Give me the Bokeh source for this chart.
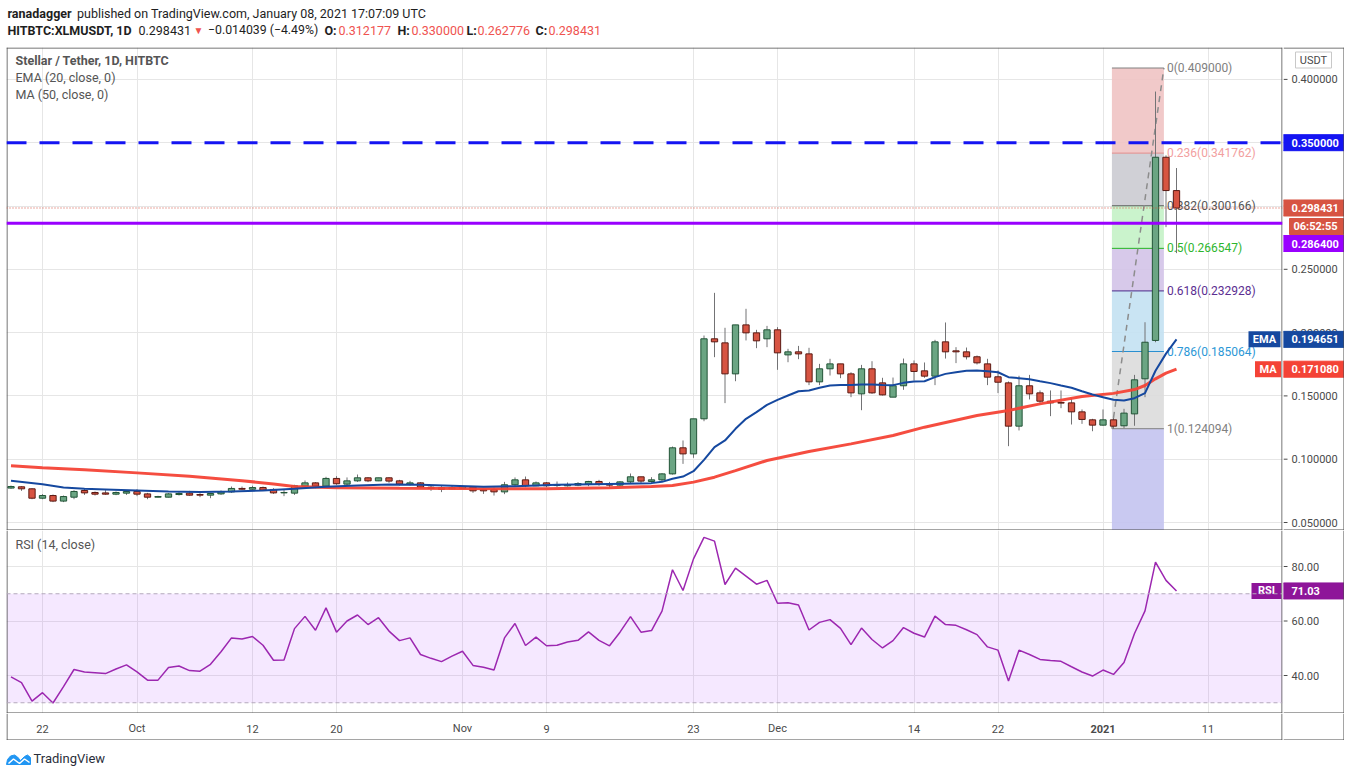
import numpy as np
import pandas as pd
from bokeh.plotting import figure
from bokeh.models import (Range1d, FixedTicker, Span, BoxAnnotation, ColumnDataSource, Grid)
from bokeh.layouts import column, row
from bokeh.embed import file_html
from bokeh.resources import INLINE
from bokeh.core.properties import value

# ---------------------------------------------------------------- data
start = "2020-09-19"

opens = [.0772, .0782, .0766, .0692, .0713, .0669, .0700, .0753, .0737, .0734, .0724, .0732,
         .0745, .0726, .0700, .0700, .0721, .0732, .0721, .0716, .0726, .0742,
         .0769, .0763, .0776, .0761, .0734, .0732, .0787, .0813, .0787, .0848,
         .0803, .0829, .0853, .0829, .0853, .0829, .0803, .0813, .0779, .0776, .0766,
         .0769, .0779, .0761, .0761, .0742, .0798, .0837, .0790, .0813, .0792,
         .0790, .0795, .0803, .0824, .0808, .0795, .0821, .0861, .0824, .0837,
         .0884, .1090, .1042, .1319, .1951, .1919, .1674, .2061, .1998, .1951,
         .2022, .1824, .1848, .1832, .1611, .1714, .1753, .1674, .1516, .1714,
         .1603, .1490, .1580, .1753, .1698, .1656, .1927, .1856, .1848, .1809,
         .1753, .1651, .1603, .1261, .1580, .1524, .1458, .1448, .1445, .1374, .1311,
         .1269, .1311, .1264, .1358, .1635, .1938, .3385, .312177]
highs = [.0792, .0787, .0771, .0724, .0721, .0713, .0755, .0766, .0745, .0755, .0745, .0755,
         .0763, .0734, .0711, .0732, .0740, .0750, .0732, .0734, .0753, .0784,
         .0784, .0790, .0784, .0771, .0758, .0798, .0832, .0819, .0861, .0866,
         .0856, .0879, .0858, .0853, .0858, .0837, .0829, .0819, .0792, .0787, .0792,
         .0790, .0787, .0766, .0776, .0821, .0856, .0863, .0824, .0819, .0824,
         .0816, .0819, .0829, .0837, .0821, .0827, .0887, .0861, .0858, .0890,
         .1100, .1148, .1319, .1977, .2314, .2038, .2061, .2188, .2022, .2053,
         .2043, .1872, .1895, .1880, .1753, .1793, .1753, .1687, .1745, .1774,
         .1643, .1645, .1795, .1780, .1764, .1943, .2080, .1885, .1882, .1819,
         .1793, .1701, .1614, .1659, .1666, .1543, .1543, .1543, .1485, .1393, .1319,
         .1393, .1327, .1398, .1666, .2082, .3904, .3400, .330000]
lows = [.0766, .0750, .0684, .0684, .0661, .0661, .0684, .0718, .0713, .0718, .0716, .0718,
        .0708, .0684, .0698, .0698, .0713, .0711, .0700, .0692, .0718, .0734,
        .0758, .0758, .0750, .0726, .0708, .0718, .0779, .0771, .0776, .0798,
        .0792, .0821, .0819, .0827, .0813, .0792, .0792, .0771, .0750, .0740, .0761,
        .0766, .0734, .0726, .0713, .0724, .0787, .0779, .0787, .0779, .0779,
        .0784, .0787, .0787, .0790, .0779, .0790, .0811, .0811, .0813, .0824,
        .0879, .0963, .1011, .1300, .1806, .1443, .1616, .1938, .1877, .1885,
        .1706, .1766, .1790, .1585, .1585, .1661, .1640, .1490, .1387, .1516,
        .1503, .1490, .1548, .1622, .1643, .1585, .1795, .1759, .1788, .1748,
        .1585, .1522, .1103, .1227, .1472, .1432, .1340, .1403, .1274, .1279, .1221,
        .1264, .1241, .1245, .1264, .1490, .1924, .2833, .262776]
closes = [.0784, .0766, .0692, .0713, .0669, .0705, .0745, .0734, .0724, .0724, .0737, .0745,
          .0724, .0700, .0705, .0726, .0729, .0716, .0716, .0729, .0742, .0769,
          .0763, .0776, .0755, .0734, .0737, .0790, .0813, .0787, .0848, .0806,
          .0829, .0853, .0829, .0853, .0827, .0803, .0813, .0779, .0769, .0763, .0776,
          .0784, .0750, .0750, .0742, .0798, .0837, .0790, .0813, .0790, .0795,
          .0798, .0808, .0824, .0803, .0795, .0821, .0861, .0827, .0837, .0884,
          .1090, .1042, .1319, .1951, .1927, .1674, .2061, .1998, .1935, .2022,
          .1840, .1848, .1832, .1611, .1714, .1753, .1674, .1524, .1714, .1524,
          .1508, .1580, .1753, .1693, .1656, .1927, .1848, .1848, .1809, .1761,
          .1648, .1608, .1261, .1580, .1516, .1458, .1445, .1443, .1374, .1314, .1269,
          .1311, .1261, .1364, .1627, .1924, .3385, .3122, .298431]

rsi = [39.5, 37.4, 30.6, 33.7, 29.9, 35.9, 42.2, 41.3, 41.0, 40.7, 42.4, 43.9,
       41.3, 38.3, 38.3, 42.9, 43.5, 41.8, 41.6, 44.1, 48.7, 53.8,
       53.4, 54.3, 51.1, 45.6, 45.7, 57.2, 61.7, 56.6, 64.8, 55.9,
       60.0, 62.2, 58.7, 61.2, 56.3, 52.8, 53.8, 47.7, 46.3, 45.1, 47.1,
       48.9, 43.7, 43.0, 42.0, 53.8, 59.1, 51.0, 54.1, 50.9, 51.1,
       52.3, 52.9, 56.0, 52.9, 50.9, 55.9, 61.6, 55.9, 56.5, 63.6,
       78.8, 71.2, 82.8, 90.7, 89.3, 73.4, 79.4, 76.5, 73.5, 74.9,
       66.5, 66.7, 65.9, 56.7, 59.5, 60.5, 57.3, 51.3, 57.4, 53.2,
       50.1, 52.8, 57.6, 55.5, 54.1, 61.8, 58.7, 58.4, 56.8, 55.0,
       50.5, 49.3, 38.0, 49.3, 47.7, 45.9, 45.5, 45.2, 43.2, 41.3, 39.8,
       42.0, 40.4, 44.8, 55.4, 63.7, 81.6, 74.9, 71.03]

# EMA(20) and MA(50) (day offset from start, value)
ema_day = [0, 3, 5, 7, 9, 12, 15, 18, 21, 24, 27, 30, 33, 36, 39, 42, 45, 48, 52, 57,
           61, 62, 63, 64, 65, 66, 67, 68, 69, 70, 71, 72, 73, 74, 75, 76, 77, 78, 79,
           80, 81, 82, 83, 84, 85, 86, 87, 88, 89, 90, 91, 92, 93, 94, 95, 96, 97, 98,
           99, 100, 101, 102, 103, 104, 105, 106, 107, 108, 109, 110, 111]
ema_val = [0.0829, 0.0803, 0.0776, 0.0766, 0.0761, 0.0753, 0.0745, 0.0740, 0.0745, 0.0753,
           0.0766, 0.0782, 0.0792, 0.0800, 0.0798, 0.0790, 0.0782, 0.0787, 0.0798, 0.0805,
           0.0811, 0.0821, 0.0845, 0.0863, 0.0905, 0.0995, 0.1095, 0.1148, 0.1240, 0.1319,
           0.1372, 0.1429, 0.1469, 0.1503, 0.1537, 0.1543, 0.1564, 0.1582, 0.1587, 0.1587,
           0.1590, 0.1590, 0.1587, 0.1585, 0.1603, 0.1614, 0.1616, 0.1648, 0.1674, 0.1687,
           0.1698, 0.1701, 0.1695, 0.1687, 0.1648, 0.1640, 0.1632, 0.1616, 0.1601, 0.1582,
           0.1564, 0.1537, 0.1511, 0.1490, 0.1469, 0.1464, 0.1482, 0.1522, 0.1699, 0.1834,
           0.194651]
ma_day = [0, 3, 7, 12, 17, 22, 25, 27, 31, 37, 43, 51, 57, 61, 63, 65, 67, 69, 72, 76,
          80, 84, 87, 92, 95, 98, 102, 105, 107, 108, 109, 110, 111]
ma_val = [0.0948, 0.0932, 0.0916, 0.0892, 0.0866, 0.0830, 0.0805, 0.0785, 0.0775, 0.0771,
          0.0768, 0.0767, 0.0774, 0.0784, 0.0792, 0.0819, 0.0858, 0.0910, 0.0990, 0.1061,
          0.1121, 0.1187, 0.1253, 0.1345, 0.1385, 0.1437, 0.1495, 0.1520, 0.1550, 0.1582,
          0.1635, 0.1680, 0.171080]

tick_dates = ["2020-09-22", "2020-10-01", "2020-10-12", "2020-10-20", "2020-11-01",
              "2020-11-09", "2020-11-23", "2020-12-01", "2020-12-14", "2020-12-22",
              "2021-01-01", "2021-01-11"]
tick_labels = ["22", "Oct", "12", "20", "Nov", "9", "23", "Dec", "14", "22", "2021", "11"]
price_ticks = [0.05, 0.10, 0.15, 0.20, 0.25, 0.30, 0.35, 0.40]
rsi_ticks = [40, 60, 80]

fib_high = 0.409
fib_low = 0.124094
fib_ratios = [0, 0.236, 0.382, 0.5, 0.618, 0.786, 1, 1.618]
resistance = 0.35
support = 0.2864
countdown = "06:52:55"

# ---------------------------------------------------------------- geometry / styles
FONT = "Roboto"
FRAME = "#4a4a4a"
TXT = "#4a4a4a"
GRID = "#e6e6e6"
UP_FILL, UP_LINE = "#6ba583", "#225437"
DN_FILL, DN_LINE = "#d75442", "#5b1a13"
WICK = "#737375"
EMA_C = "#15489f"
MA_C = "#f44336"
RSI_C = "#9c27b0"
RSI_TAG = "#8e1599"
BLUE_C = "#1414f2"
PURPLE_C = "#9900ff"
HDR_RED = "#ef5350"
HDR_TXT = "#1e1e1e"


def col_x(px):
    return (px - 10.5) / 10.5


def row_p(py):
    return 0.05 + (522 - py) / 1266.0


def row_r(py):
    return 80 - (py - 566) / 2.725


W_ALL = 1344
W_PLOT = 1283
W_AX = W_ALL - W_PLOT
x_range = Range1d(col_x(6), col_x(1282))
p_range = Range1d(row_p(530), row_p(47))
r_range = Range1d(row_r(713), row_r(530))

dates = pd.date_range(start, periods=len(closes), freq="D")
xday = [float(v) for v in (dates - pd.Timestamp(start)).days]
tick_x = [int((pd.Timestamp(t) - pd.Timestamp(start)).days) for t in tick_dates]

fib_x0, fib_x1 = 104.85, 109.8
fib_prices = [fib_high - r * (fib_high - fib_low) for r in fib_ratios]


def bare(w, h, xr, yr, left=0, right=0):
    f = figure(width=w, height=h, x_range=xr, y_range=yr, x_axis_location=None,
               y_axis_location=None, toolbar_location=None, output_backend="svg",
               min_border_left=left, min_border_right=right, min_border_top=0,
               min_border_bottom=0, outline_line_color=None)
    f.grid.visible = False
    return f


def edges(fig, segs):
    fig.segment(x0=[s[0] for s in segs], y0=[s[1] for s in segs],
                x1=[s[2] for s in segs], y1=[s[3] for s in segs],
                line_color=FRAME, line_width=1)


# ---------------------------------------------------------------- header
hdr = bare(W_ALL, 47, Range1d(0, W_ALL), Range1d(47, 0))
hsrc = ColumnDataSource(dict(
    x=[7, 76.5, 7, 138, 193, 207.5, 324, 338, 397, 411, 466, 477, 535, 548],
    y=[12.5, 12.5] + [29.5] * 12,
    t=["ranadagger", "published on TradingView.com, January 08, 2021 17:07:09 UTC",
       "HITBTC:XLMUSDT, 1D", "%.6f" % closes[-1], "\u25bc", "\u22120.014039 (\u22124.49%)",
       "O:", "%.6f" % opens[-1], "H:", "%.6f" % highs[-1], "L:", "%.6f" % lows[-1],
       "C:", "%.6f" % closes[-1]],
    st=["bold", "normal", "bold", "normal", "normal", "normal", "bold", "normal",
        "bold", "normal", "bold", "normal", "bold", "normal"],
    sz=["12.5px", "12.5px", "12.5px", "12.5px", "10px", "12.3px", "12.5px", "12.5px",
        "12.5px", "12.5px", "12.5px", "12.5px", "12.5px", "12.5px"],
    c=[HDR_TXT, HDR_TXT, HDR_TXT, HDR_TXT, HDR_RED, HDR_TXT, HDR_TXT, HDR_RED,
       HDR_TXT, HDR_RED, HDR_TXT, HDR_RED, HDR_TXT, HDR_RED],
))
hdr.text(x="x", y="y", text="t", source=hsrc, text_font=value(FONT),
         text_font_size="sz", text_font_style="st", text_color="c",
         text_baseline="middle", text_align="left")

# ---------------------------------------------------------------- main pane
main = bare(W_PLOT, 483, x_range, p_range, left=6, right=1)
main.add_layout(Grid(dimension=0, ticker=FixedTicker(ticks=tick_x), grid_line_color=GRID))
main.add_layout(Grid(dimension=1, ticker=FixedTicker(ticks=price_ticks), grid_line_color=GRID))

# fib zones
zone_colors = ["#f0c4c4", "#ccccd2", "#c6f2c8", "#d4c4e8", "#c4e2f2", "#dcdcdc", "#c4c4f0"]
main.quad(left=[fib_x0] * 7, right=[fib_x1] * 7, top=fib_prices[:-1], bottom=fib_prices[1:],
          fill_color=zone_colors, fill_alpha=0.92, line_color=None)
fib_line_colors = ["#808080", "#e08a8a", "#555555", "#22b522", "#4a2a8a", "#2a8fd0", "#808080"]
fib_text_colors = ["#808080", "#f2a0a0", "#555555", "#2db52d", "#5b2e91", "#2b97d6", "#808080"]
main.segment(x0=[fib_x0] * 7, x1=[fib_x1] * 7, y0=fib_prices[:-1], y1=fib_prices[:-1],
             line_color=fib_line_colors, line_width=1)
main.text(x=[fib_x1] * 7, y=fib_prices[:-1],
          text=["%g(%.6f)" % (r, p) for r, p in zip(fib_ratios[:-1], fib_prices[:-1])],
          text_color=fib_text_colors, text_font=value(FONT), text_font_size=value("12px"),
          text_baseline="middle", text_align="left", x_offset=3)
main.line([fib_x0, fib_x1], [fib_low, fib_high], line_color="#8c8c8c", line_width=1.5,
          line_dash="6 5")

# candles
up = [c >= o for o, c in zip(opens, closes)]
csrc = ColumnDataSource(dict(
    x=xday, high=highs, low=lows,
    top=[max(o, c) for o, c in zip(opens, closes)],
    bottom=[min(o, c) for o, c in zip(opens, closes)],
    fill=[UP_FILL if u else DN_FILL for u in up],
    line=[UP_LINE if u else DN_LINE for u in up],
))
main.segment(x0="x", y0="low", x1="x", y1="high", source=csrc, line_color=WICK, line_width=1)
main.vbar(x="x", width=0.6, top="top", bottom="bottom", source=csrc,
          fill_color="fill", line_color="line", line_width=1)

main.line(ma_day, ma_val, line_color=MA_C, line_width=3, line_alpha=0.95)
main.line(ema_day, ema_val, line_color=EMA_C, line_width=2)

# legend texts
main.text(x=[col_x(15)] * 3, y=[row_p(60), row_p(77), row_p(94)],
          text=["Stellar / Tether, 1D, HITBTC", "EMA (20, close, 0)", "MA (50, close, 0)"],
          text_font=value(FONT), text_font_size=value("12.5px"),
          text_font_style=["bold", "normal", "normal"], text_color="#555555",
          text_baseline="middle", text_align="left")

# name boxes of indicator tags (inside the pane)
main.rect(x=[col_x(1264), col_x(1267.5)], y=[ema_val[-1], ma_val[-1]], width=[32, 26],
          height=[16, 16], width_units="screen", height_units="screen",
          fill_color=[EMA_C, MA_C], line_color=None)
main.text(x=[col_x(1264), col_x(1267.5)], y=[ema_val[-1], ma_val[-1]], text=["EMA", "MA"],
          text_color="white", text_font=value(FONT), text_font_size=value("11px"),
          text_font_style="bold", text_align="center", text_baseline="middle")

# horizontal levels
main.add_layout(Span(location=closes[-1], dimension="width", line_color=DN_FILL,
                     line_width=1, line_dash="1 2"))
main.add_layout(Span(location=support, dimension="width", line_color=PURPLE_C, line_width=3))
main.add_layout(Span(location=resistance, dimension="width", line_color=BLUE_C,
                     line_width=3, line_dash="20 13"))
edges(main, [(col_x(6.5), row_p(47), col_x(6.5), row_p(530)),
             (col_x(1281.5), row_p(47), col_x(1281.5), row_p(530)),
             (col_x(6), row_p(47.5), col_x(1282), row_p(47.5)),
             (col_x(6), row_p(529.5), col_x(1282), row_p(529.5))])

# ---------------------------------------------------------------- price scale
pax = bare(W_AX, 483, Range1d(W_PLOT, W_ALL), p_range)
pax.segment(x0=[W_PLOT] * len(price_ticks), x1=[W_PLOT + 4] * len(price_ticks),
            y0=price_ticks, y1=price_ticks, line_color=FRAME, line_width=1)
pax.text(x=[W_PLOT + 8] * len(price_ticks), y=price_ticks,
         text=["%.6f" % t for t in price_ticks], text_font=value(FONT),
         text_font_size=value("11px"), text_color=TXT, text_baseline="middle",
         text_align="left")
ptag = ColumnDataSource(dict(
    x=[1313, 1313, 1313, 1316, 1313, 1313, 1313],
    w=[36, 61, 61, 54, 61, 61, 61],
    y=[row_p(59.5), resistance, closes[-1], row_p(226), row_p(243), ema_val[-1], ma_val[-1]],
    tx=[1313, W_PLOT + 8, W_PLOT + 8, 1293, W_PLOT + 8, W_PLOT + 8, W_PLOT + 8],
    t=["USDT", "%.6f" % resistance, "%.6f" % closes[-1], countdown, "%.6f" % support,
       "%.6f" % ema_val[-1], "%.6f" % ma_val[-1]],
    fc=["white", BLUE_C, DN_FILL, DN_FILL, PURPLE_C, EMA_C, MA_C],
    lc=["#c8c8c8", BLUE_C, DN_FILL, DN_FILL, PURPLE_C, EMA_C, MA_C],
    tc=["#4a4a4a", "white", "white", "white", "white", "white", "white"],
    st=["normal", "bold", "bold", "bold", "bold", "bold", "bold"],
    al=["center", "left", "left", "left", "left", "left", "left"],
))
pax.rect(x="x", y="y", width="w", height=16, width_units="screen", height_units="screen",
         source=ptag, fill_color="fc", line_color="lc")
pax.text(x="tx", y="y", text="t", source=ptag, text_color="tc", text_font=value(FONT),
         text_font_size=value("11px"), text_font_style="st", text_align="al",
         text_baseline="middle")
edges(pax, [(W_PLOT, row_p(47.5), W_ALL, row_p(47.5)),
            (W_ALL - 0.5, row_p(47), W_ALL - 0.5, row_p(530)),
            (W_PLOT, row_p(529.5), W_ALL, row_p(529.5))])

# ---------------------------------------------------------------- RSI pane
rp = bare(W_PLOT, 183, x_range, r_range, left=6, right=1)
rp.add_layout(Grid(dimension=0, ticker=FixedTicker(ticks=tick_x), grid_line_color=GRID))
rp.add_layout(Grid(dimension=1, ticker=FixedTicker(ticks=rsi_ticks), grid_line_color=GRID))
rp.add_layout(BoxAnnotation(bottom=30, top=70, fill_color="#b04fff", fill_alpha=0.13,
                            line_color=None, level="underlay"))
for lv in (70, 30):
    rp.add_layout(Span(location=lv, dimension="width", line_color="#b4a9bd",
                       line_width=1, line_dash="4 3"))
rp.line(xday, rsi, line_color=RSI_C, line_width=1.5)
rp.text(x=[col_x(15)], y=[row_r(544)], text=["RSI (14, close)"], text_font=value(FONT),
        text_font_size=value("12.5px"), text_color="#555555", text_baseline="middle",
        text_align="left")
rp.rect(x=[col_x(1266)], y=[rsi[-1]], width=[30], height=[16], width_units="screen",
        height_units="screen", fill_color=RSI_TAG, line_color=None)
rp.text(x=[col_x(1266)], y=[rsi[-1]], text=["RSI"], text_color="white", text_font=value(FONT),
        text_font_size=value("11px"), text_font_style="bold", text_align="center",
        text_baseline="middle")
edges(rp, [(col_x(6.5), row_r(530), col_x(6.5), row_r(713)),
           (col_x(1281.5), row_r(530), col_x(1281.5), row_r(713)),
           (col_x(6), row_r(712.5), col_x(1282), row_r(712.5))])

# RSI scale
rax = bare(W_AX, 183, Range1d(W_PLOT, W_ALL), r_range)
rax.segment(x0=[W_PLOT] * len(rsi_ticks), x1=[W_PLOT + 4] * len(rsi_ticks),
            y0=rsi_ticks, y1=rsi_ticks, line_color=FRAME, line_width=1)
rax.text(x=[W_PLOT + 8] * len(rsi_ticks), y=rsi_ticks, text=["%.2f" % t for t in rsi_ticks],
         text_font=value(FONT), text_font_size=value("11px"), text_color=TXT,
         text_baseline="middle", text_align="left")
rax.rect(x=[1313], y=[rsi[-1]], width=[61], height=[16], width_units="screen",
         height_units="screen", fill_color=RSI_TAG, line_color=RSI_TAG)
rax.text(x=[W_PLOT + 8], y=[rsi[-1]], text=["%.2f" % rsi[-1]], text_color="white",
         text_font=value(FONT), text_font_size=value("11px"), text_font_style="bold",
         text_align="left", text_baseline="middle")
edges(rax, [(W_ALL - 0.5, row_r(530), W_ALL - 0.5, row_r(713)),
            (W_PLOT, row_r(712.5), W_ALL, row_r(712.5))])

# ---------------------------------------------------------------- time scale
xs = bare(W_PLOT, 27, x_range, Range1d(740, 713), left=6, right=1)
xs.text(x=tick_x, y=[728] * len(tick_x), text=tick_labels, text_font=value(FONT),
        text_font_size=value("11px"), text_color=TXT, text_align="center",
        text_baseline="middle",
        text_font_style=["bold" if lab == "2021" else "normal" for lab in tick_labels])
edges(xs, [(col_x(6.5), 713, col_x(6.5), 740),
           (col_x(1281.5), 713, col_x(1281.5), 740),
           (col_x(6), 739.5, col_x(1282), 739.5)])
xsa = bare(W_AX, 27, Range1d(W_PLOT, W_ALL), Range1d(740, 713))
edges(xsa, [(W_ALL - 0.5, 713, W_ALL - 0.5, 740),
            (W_PLOT, 739.5, W_ALL, 739.5)])

# ---------------------------------------------------------------- footer
ft = bare(W_ALL, 35, Range1d(0, W_ALL), Range1d(775, 740))
ft.patch([6, 7, 10, 14, 17, 20, 24, 27, 30, 30, 6],
         [764, 759, 755.5, 754.5, 756.5, 760, 756, 754.5, 757, 764, 764],
         fill_color="#2196f3", line_color="#2196f3", line_width=1)
ft.line([8, 13, 19, 24, 29], [763, 758.5, 763, 758.5, 762], line_color="white", line_width=1.5)
ft.text(x=[33], y=[758], text=["TradingView"], text_font=value(FONT),
        text_font_size=value("13px"), text_color="#2a2e39", text_baseline="middle",
        text_align="left")

layout = column(hdr, row(main, pax), row(rp, rax), row(xs, xsa), ft)
open("out.html", "w").write(file_html(layout, INLINE))
